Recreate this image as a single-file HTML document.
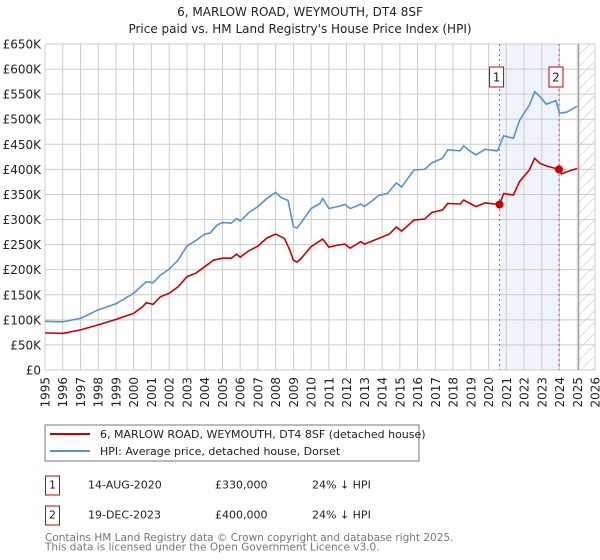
<!DOCTYPE html>
<html><head><meta charset="utf-8"><style>
body{margin:0;background:#fff;font-family:"DejaVu Sans","Liberation Sans",sans-serif;}
svg{display:block;font-family:"DejaVu Sans","Liberation Sans",sans-serif;}
</style></head><body>
<svg id="c" width="600" height="560" xmlns="http://www.w3.org/2000/svg">
<defs><pattern id="hatch" width="8" height="8" patternUnits="userSpaceOnUse" patternTransform="rotate(45)"><line x1="0" y1="0" x2="0" y2="8" stroke="#bbb" stroke-width="1"/></pattern></defs>
<text x="300" y="16" text-anchor="middle" font-size="12" fill="#222">6, MARLOW ROAD, WEYMOUTH, DT4 8SF</text>
<text x="300" y="33" text-anchor="middle" font-size="12" fill="#222">Price paid vs. HM Land Registry's House Price Index (HPI)</text>
<g id="plot"></g>
<rect x="45" y="425" width="374" height="36" fill="#fff" stroke="#777"/>
<line x1="50" y1="434" x2="90" y2="434" stroke="#cc0000" stroke-width="2"/>
<text x="100" y="438" font-size="11" fill="#222">6, MARLOW ROAD, WEYMOUTH, DT4 8SF (detached house)</text>
<line x1="50" y1="451" x2="90" y2="451" stroke="#5b8fd4" stroke-width="2"/>
<text x="100" y="455" font-size="11" fill="#222">HPI: Average price, detached house, Dorset</text>
<g font-size="11" fill="#222">
<rect x="45.5" y="476" width="14" height="19" fill="#fff" stroke="#cc0000"/>
<text x="52.5" y="488.5" text-anchor="middle">1</text>
<text x="88" y="488.5">14-AUG-2020</text>
<text x="215" y="488.5">£330,000</text>
<text x="312" y="488.5">24% ↓ HPI</text>
<rect x="45.5" y="506" width="14" height="19" fill="#fff" stroke="#cc0000"/>
<text x="52.5" y="518.5" text-anchor="middle">2</text>
<text x="88" y="518.5">19-DEC-2023</text>
<text x="215" y="518.5">£400,000</text>
<text x="312" y="518.5">24% ↓ HPI</text>
</g>
<text x="45" y="541" font-size="10.5" fill="#777">Contains HM Land Registry data © Crown copyright and database right 2025.</text>
<text x="45" y="550.5" font-size="10.5" fill="#777">This data is licensed under the Open Government Licence v3.0.</text>
</svg>
<script>
const hpiYears=[1995,1996,1997,1998,1999,2000,2000.7,2001.1,2001.5,2002,2002.5,2003,2003.5,2004,2004.3,2004.7,2005,2005.5,2005.8,2006,2006.5,2007,2007.5,2008,2008.3,2008.7,2009,2009.2,2009.4,2010,2010.5,2010.65,2011,2011.5,2011.9,2012.2,2012.5,2012.8,2013,2013.5,2013.8,2014.3,2014.8,2015.1,2015.8,2016.4,2016.8,2017.4,2017.7,2018.4,2018.6,2018.9,2019.3,2019.8,2020.5,2020.85,2021.4,2021.75,2022.3,2022.6,2022.9,2023.25,2023.8,2024,2024.4,2025];
const hpiValues=[97,96,103,120,132,153,176,174,189,201,219,247,258,271,273,289,294,293,302,297,314,326,342,354,344,338,286,283,292,322,332,342,322,326,330,322,326,331,326,339,348,352,373,365,399,400,413,422,439,437,447,438,429,440,437,467,462,498,528,555,545,530,537,512,514,526];
const ppYears=[1995,1996,1997,1998,1999,2000,2000.5,2000.7,2001.1,2001.5,2002,2002.5,2003,2003.5,2004,2004.5,2005,2005.5,2005.8,2006,2006.5,2007,2007.5,2008,2008.5,2008.8,2009,2009.2,2009.4,2010,2010.65,2011,2011.5,2011.9,2012.2,2012.8,2013,2013.85,2014.4,2014.8,2015.1,2015.8,2016.4,2016.8,2017.4,2017.7,2018.4,2018.6,2018.9,2019.3,2019.8,2020.62,2020.85,2021.4,2021.75,2022.3,2022.6,2022.9,2023.25,2023.97,2024.1,2024.4,2025];
const ppValues=[74,73,80,90,101,113,126,134,131,146,153,166,186,193,206,219,223,223,231,225,238,247,263,271,262,239,219,215,221,246,261,245,249,251,243,256,251,263,271,285,277,299,301,314,319,332,331,339,333,326,333,330,352,349,376,399,422,412,407,400,391,395,402];
const saleYears=[2020.62,2023.97];
const saleValues=[330,400];
const saleLabels=["1","2"];
const yTicks=[0,50,100,150,200,250,300,350,400,450,500,550,600,650];
const yTickLabels=["£0","£50K","£100K","£150K","£200K","£250K","£300K","£350K","£400K","£450K","£500K","£550K","£600K","£650K"];
const xTicks=[1995,1996,1997,1998,1999,2000,2001,2002,2003,2004,2005,2006,2007,2008,2009,2010,2011,2012,2013,2014,2015,2016,2017,2018,2019,2020,2021,2022,2023,2024,2025,2026];

const L=45,R=595,T=44,B=370,Y0=1995,Y1=2026,VMAX=650;
const X=y=>L+(y-Y0)/(Y1-Y0)*(R-L);
const Yv=v=>B-v/VMAX*(B-T);
const NS="http://www.w3.org/2000/svg";
const g=document.getElementById('plot');
function mk(tag,attrs){const e=document.createElementNS(NS,tag);for(const k in attrs)e.setAttribute(k,attrs[k]);g.appendChild(e);return e;}

const band=mk('rect',{x:X(saleYears[0]),y:T,width:X(saleYears[1])-X(saleYears[0]),height:B-T,fill:'#eef3fc'});


yTicks.forEach((v,i)=>{
  const l=mk('line',{x1:L,x2:R,y1:Yv(v),y2:Yv(v),stroke:'#ccc','stroke-width':1});
  
  
  const t=mk('text',{x:L-4,y:Yv(v)+4.5,'text-anchor':'end','font-size':12,fill:'#222'});
  t.textContent=yTickLabels[i];
  
  
});
xTicks.forEach(yr=>{
  const l=mk('line',{x1:X(yr),x2:X(yr),y1:T,y2:B,stroke:'#ccc','stroke-width':1});
  
  
  const t=mk('text',{x:0,y:0,'text-anchor':'end','font-size':12,fill:'#222',transform:`translate(${X(yr)+4.5},${B+7}) rotate(-90)`});
  t.textContent=yr;
  
  
});
const hx=X(2025.08);
const hatch=mk('rect',{x:hx,y:T,width:R-hx,height:B-T,fill:'url(#hatch)'});


const hl=mk('line',{x1:hx,x2:hx,y1:T,y2:B,stroke:'#999','stroke-width':1.2});


saleYears.forEach((yr,i)=>{
  const l=mk('line',{x1:X(yr),x2:X(yr),y1:T,y2:B,stroke:'#e05050','stroke-width':1,'stroke-dasharray':'2,3'});
  
  
});
const hp=mk('polyline',{points:hpiYears.map((y,i)=>X(y)+','+Yv(hpiValues[i])).join(' '),fill:'none',stroke:'#5b8fd4','stroke-width':1.6});


const pp=mk('polyline',{points:ppYears.map((y,i)=>X(y)+','+Yv(ppValues[i])).join(' '),fill:'none',stroke:'#cc0000','stroke-width':1.6});


saleYears.forEach((yr,i)=>{
  const c=mk('circle',{cx:X(yr),cy:Yv(saleValues[i]),r:4,fill:'#cc0000'});
  
  
  const bx=mk('rect',{x:X(yr)-10,y:67,width:14,height:20,fill:'#fff',stroke:'#cc0000'});
  
  
  const t=mk('text',{x:X(yr)-3,y:81.5,'text-anchor':'middle','font-size':12,fill:'#222'});
  t.textContent=saleLabels[i];
  
  
});
</script>
</body></html>
